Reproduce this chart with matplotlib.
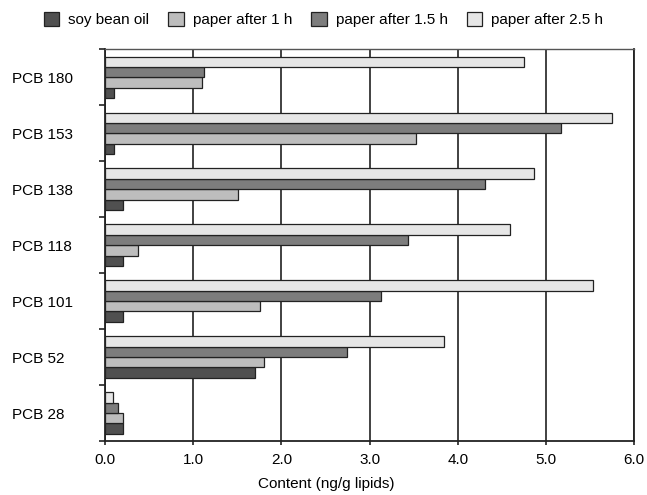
import numpy as np
import matplotlib
matplotlib.use("Agg")
import matplotlib.pyplot as plt
from matplotlib.ticker import FixedLocator

plt.rcParams['font.family'] = ['Liberation Sans', 'DejaVu Sans']

congeners = ["PCB 28", "PCB 52", "PCB 101", "PCB 118", "PCB 138", "PCB 153", "PCB 180"]
soy_oil = [0.20, 1.70, 0.20, 0.20, 0.20, 0.10, 0.10]
paper_1h = [0.20, 1.80, 1.76, 0.37, 1.51, 3.53, 1.10]
paper_15h = [0.15, 2.75, 3.13, 3.44, 4.31, 5.17, 1.12]
paper_25h = [0.09, 3.84, 5.53, 4.59, 4.87, 5.75, 4.75]

series = [
    ("soy bean oil", soy_oil, "#505050"),
    ("paper after 1 h", paper_1h, "#bdbdbd"),
    ("paper after 1.5 h", paper_15h, "#7d7d7d"),
    ("paper after 2.5 h", paper_25h, "#e6e6e6"),
]

fig = plt.figure(figsize=(6.47, 4.95), dpi=100)
ax = fig.add_axes([0.1623, 0.1091, 0.8177, 0.7913])

y = np.arange(len(congeners))
h = 0.185
for k, (name, vals, col) in enumerate(series):
    ax.barh(y + (k - 1.5) * h, vals, height=h, color=col,
            edgecolor="#222222", linewidth=0.9, label=name, zorder=3)

ax.set_xlim(0, 6)
ax.set_ylim(-0.5, len(congeners) - 0.5)
ax.set_xticks(np.arange(0, 7, 1))
ax.set_xticklabels([f"{v:.1f}" for v in range(7)], fontsize=11)
ax.set_yticks(y)
ax.set_yticklabels(congeners, fontsize=11, ha="left")
ax.yaxis.set_minor_locator(FixedLocator(np.arange(-0.5, len(congeners), 1)))
# labels are left aligned near the figure edge
ax.tick_params(axis="y", which="major", length=0, pad=67)
ax.tick_params(axis="y", which="minor", length=4, width=1.2, color="#222222")
ax.tick_params(axis="x", length=3, width=1.2, color="#222222", pad=6)

ax.grid(axis="x", color="#333333", linewidth=1.3, zorder=0)
for s in ["left", "bottom", "right"]:
    ax.spines[s].set_color("#222222")
    ax.spines[s].set_linewidth(1.3)
ax.spines["top"].set_color("#555555")
ax.spines["top"].set_linewidth(1.0)

fig.text(0.505, 0.022, "Content (ng/g lipids)", ha="center", va="center", fontsize=11)

fig.legend(loc="center", bbox_to_anchor=(0.5, 0.96), ncol=4, frameon=False,
           fontsize=11, handlelength=1.0, handleheight=1.0, handletextpad=0.6,
           columnspacing=1.25)

fig.savefig("out.png", dpi=100)
